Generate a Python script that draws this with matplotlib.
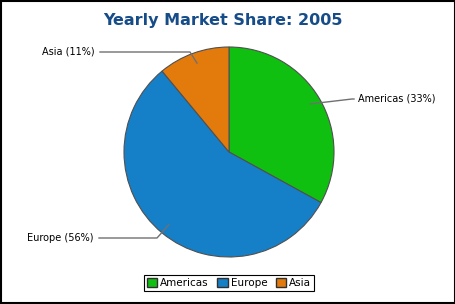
import numpy as np
import matplotlib.pyplot as plt
from matplotlib.patches import Patch, Rectangle

# data
regions = ['Americas', 'Europe', 'Asia']
shares = [33, 56, 11]
colors = ['#10C010', '#1580C8', '#E37B0C']

plt.rcParams['font.family'] = 'DejaVu Sans'

W, H = 456, 304
fig = plt.figure(figsize=(W / 100, H / 100), dpi=100)
ax = fig.add_axes([0, 0, 1, 1])

cx, cy, r = 229, H - 152, 105
wedges, _ = ax.pie(shares, colors=colors, startangle=90, counterclock=False,
                   center=(cx, cy), radius=r, frame=True,
                   wedgeprops=dict(edgecolor='#505050', linewidth=0.8))
ax.set_xlim(0, W)
ax.set_ylim(0, H)
ax.set_aspect('equal')
ax.axis('off')

# label positions (pixels from top-left): text anchor, elbow
label_pos = {
    'Americas': (358, 99, 352, 'left'),
    'Europe': (94, 238, 157, 'right'),
    'Asia': (95, 52, 190, 'right'),
}

for w, name, val in zip(wedges, regions, shares):
    ang = np.deg2rad((w.theta1 + w.theta2) / 2)
    px = cx + 0.9 * r * np.cos(ang)
    py = cy + 0.9 * r * np.sin(ang)
    tx, ty, ex, ha = label_pos[name]
    ty = H - ty
    lx = tx - 4 if ha == 'left' else tx + 5
    ax.plot([px, ex, lx], [py, ty, ty], color='#707070', lw=1.0)
    ax.text(tx, ty, f'{name} ({val}%)', ha=ha, va='center', fontsize=7,
            color='black')

fig.text(223 / W, 1 - 21 / H, 'Yearly Market Share: 2005', ha='center', va='center',
         fontsize=11.5, fontweight='bold', color='#164C88')

handles = [Patch(facecolor=c, edgecolor='#303030', label=n) for n, c in zip(regions, colors)]
leg = fig.legend(handles=handles, loc='center', bbox_to_anchor=(229 / W, 1 - 283 / H),
                 ncol=3, fontsize=7.5, fancybox=False, framealpha=1, edgecolor='black',
                 handlelength=1.0, handleheight=1.0, handletextpad=0.3, columnspacing=0.8,
                 borderpad=0.3)
leg.get_frame().set_linewidth(0.8)

fig.patches.append(Rectangle((0.002, 0.003), 0.995, 0.994, transform=fig.transFigure,
                             fill=False, edgecolor='black', linewidth=1.5))

plt.savefig('out.png', dpi=100)
